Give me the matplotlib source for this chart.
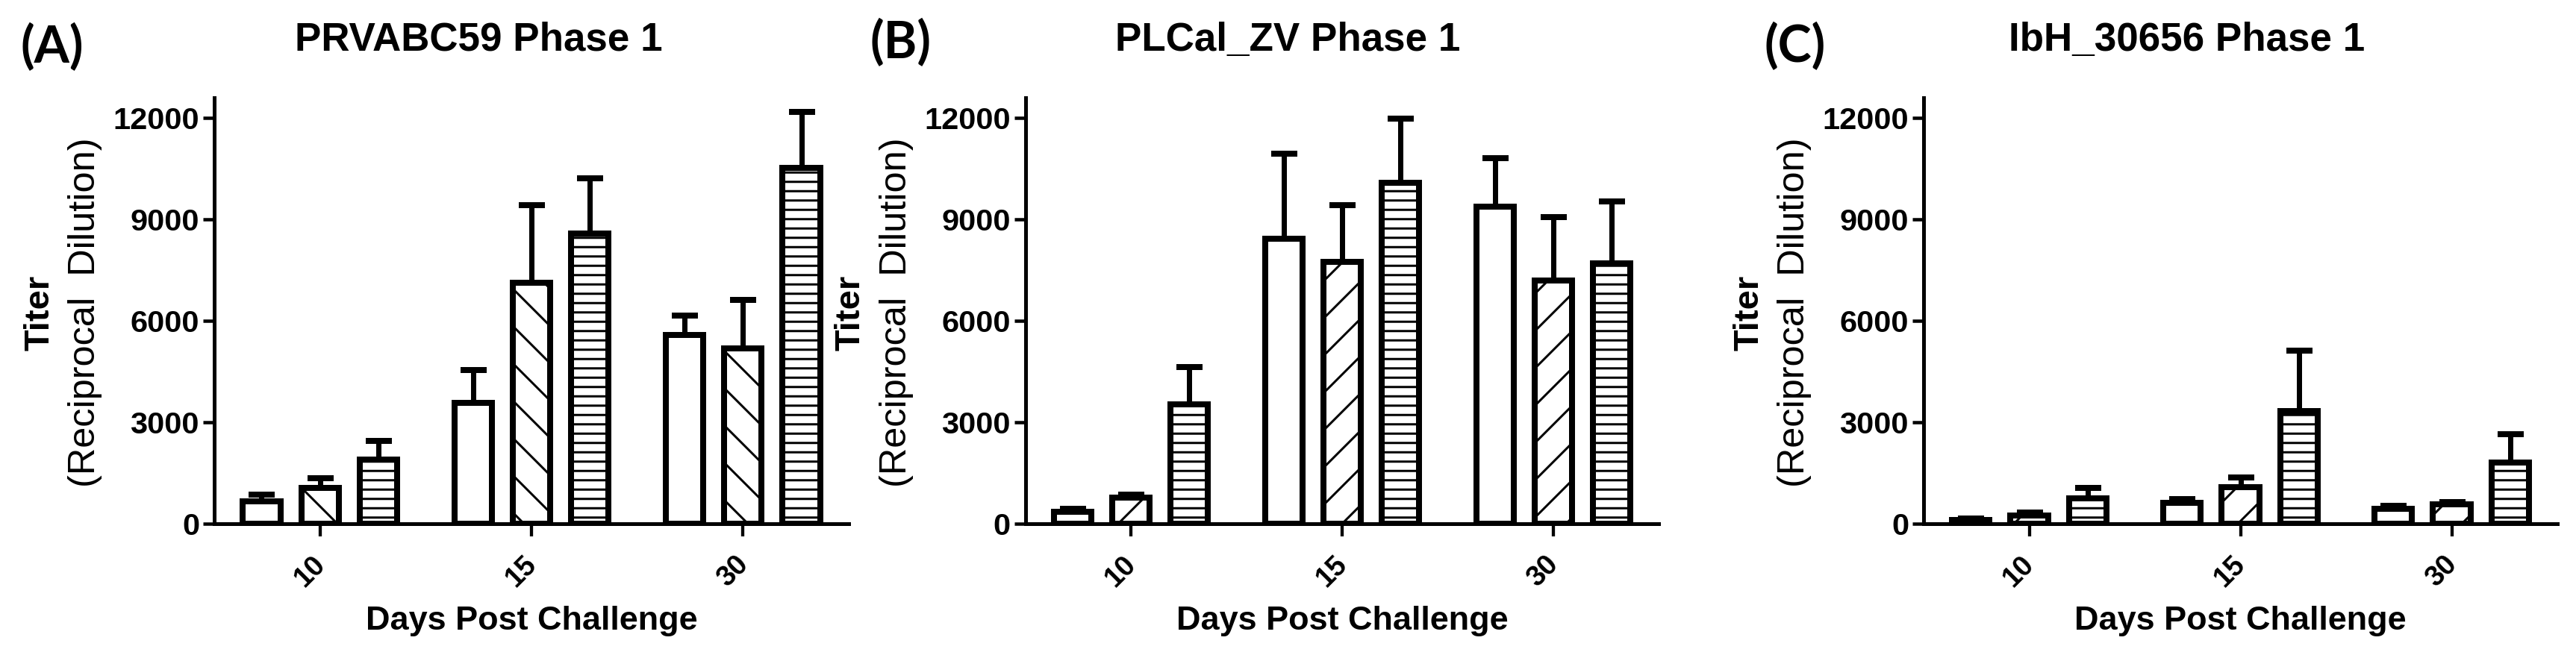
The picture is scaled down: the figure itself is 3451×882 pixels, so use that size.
import matplotlib
matplotlib.use("Agg")
import matplotlib.pyplot as plt
from matplotlib.transforms import ScaledTranslation
import numpy as np

# ---------------- data ----------------
categories = ["10", "15", "30"]
yticks = [0, 3000, 6000, 9000, 12000]

titles = ["PRVABC59 Phase 1", "PLCal_ZV Phase 1", "IbH_30656 Phase 1"]
panel_tags = ["(A)", "(B)", "(C)"]

# Panel A (PRVABC59)
a_open = [660, 3580, 5590]
a_open_err = [210, 970, 570]
a_diag = [1060, 7120, 5190]
a_diag_err = [290, 2300, 1430]
a_horiz = [1900, 8580, 10530]
a_horiz_err = [540, 1640, 1640]

# Panel B (PLCal_ZV)
b_open = [350, 8420, 9380]
b_open_err = [90, 2520, 1430]
b_diag = [780, 7740, 7200]
b_diag_err = [90, 1680, 1860]
b_horiz = [3520, 10080, 7700]
b_horiz_err = [1120, 1910, 1840]

# Panel C (IbH_30656)
c_open = [120, 620, 450]
c_open_err = [40, 100, 90]
c_diag = [250, 1090, 570]
c_diag_err = [75, 270, 65]
c_horiz = [750, 3330, 1800]
c_horiz_err = [310, 1800, 850]

# ---------------- layout ----------------
DPI = 150
W, H = 3451, 882


def pt(px):
    return px * 72.0 / DPI


plt.rcParams["font.family"] = ["Liberation Sans", "DejaVu Sans"]
plt.rcParams["hatch.linewidth"] = pt(3)

fig = plt.figure(figsize=(W / DPI, H / DPI), dpi=DPI)

ax_left = [287, 1374, 2577]
ax_right = [1137, 2222, 3426]
ax_bottom, ax_top = 702, 131
title_x = [641, 1725, 2930]
tag_x = [70, 1206, 2405]
tag_y = [63, 57, 62]

panels = [
    [(a_open, a_open_err, ""), (a_diag, a_diag_err, "\\"), (a_horiz, a_horiz_err, "--")],
    [(b_open, b_open_err, ""), (b_diag, b_diag_err, "/"), (b_horiz, b_horiz_err, "--")],
    [(c_open, c_open_err, ""), (c_diag, c_diag_err, "/"), (c_horiz, c_horiz_err, "--")],
]

offsets = [-0.276, 0.0, 0.276]
bar_w = 0.177

for p in range(3):
    l, r = ax_left[p], ax_right[p]
    ax = fig.add_axes([l / W, (H - ax_bottom) / H, (r - l) / W, (ax_bottom - ax_top) / H])
    x = np.arange(len(categories))
    for k, (vals, errs, hatch) in enumerate(panels[p]):
        xs = x + offsets[k]
        ax.errorbar(xs, vals, yerr=[np.zeros(len(vals)), errs], fmt="none",
                    ecolor="black", elinewidth=pt(7), capsize=pt(17.5),
                    capthick=pt(8), zorder=2)
        ax.bar(xs, vals, width=bar_w, facecolor="white", edgecolor="black",
               linewidth=pt(8), hatch=hatch if hatch else None, zorder=3)
    ax.set_xlim(-0.5, 2.5)
    ax.set_ylim(0, 12600)
    for s in ["top", "right"]:
        ax.spines[s].set_visible(False)
    for s in ["left", "bottom"]:
        ax.spines[s].set_linewidth(pt(5))
    ax.set_yticks(yticks)
    ax.set_yticklabels([str(v) for v in yticks], fontsize=pt(41.5), fontweight="bold")
    ax.set_xticks(x)
    ax.set_xticklabels(categories, fontsize=pt(38), fontweight="bold",
                       rotation=45, ha="right")
    ax.tick_params(axis="y", length=pt(15), width=pt(4.5), pad=pt(5))
    ax.tick_params(axis="x", length=pt(17), width=pt(4.3), pad=pt(19))
    for lab in ax.get_xticklabels():
        lab.set_transform(lab.get_transform() + ScaledTranslation(14 / DPI, 0, fig.dpi_scale_trans))

    fig.text((l + r) / 2 / W, 1 - 844 / H, "Days Post Challenge", ha="center",
             va="baseline", fontsize=pt(45), fontweight="bold")
    yc = 1 - 419 / H
    fig.text((l - 234) / W, yc, "Titer", rotation=90, ha="center", va="center",
             fontsize=pt(47), fontweight="bold")
    fig.text((l - 173) / W, yc, "(Reciprocal  Dilution)", rotation=90,
             ha="center", va="center", fontsize=pt(50.5))

    fig.text(title_x[p] / W, 1 - 68 / H, titles[p], ha="center", va="baseline",
             fontsize=pt(53), fontweight="bold")
    fig.text(tag_x[p] / W, 1 - tag_y[p] / H, panel_tags[p], ha="center", va="center",
             fontsize=pt(68), fontweight="bold", family=["Lato", "DejaVu Sans"])

fig.savefig("out.png", dpi=DPI, facecolor="white")
